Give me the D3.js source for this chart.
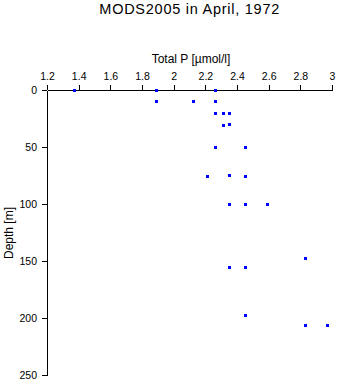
<!DOCTYPE html>
<html>
<head>
<meta charset="utf-8">
<script src="https://cdn.jsdelivr.net/npm/d3@7"></script>
<style>
  html, body { margin: 0; padding: 0; background: #fff; }
  svg { display: block; }
  text { font-family: "Liberation Sans", Arial, Helvetica, sans-serif; fill: #000; }
</style>
</head>
<body>
<svg id="chart" width="338" height="384"></svg>
<script>
// Data
const totalP = [1.37, 1.89, 2.26, 1.89, 2.12, 2.26, 2.26, 2.31, 2.35, 2.31, 2.35, 2.26, 2.45, 2.21, 2.35, 2.45, 2.35, 2.45, 2.59, 2.83, 2.35, 2.45, 2.45, 2.83, 2.97];
const depth  = [0,    0,    0,    10,   10,   10,   20,   20,   20,   30.5, 29.5, 50,   50,   75.5, 74.5, 75.5, 100,  100,  100,  147,  155,  155,  197,  206,  206];
const xTicks = [1.2, 1.4, 1.6, 1.8, 2, 2.2, 2.4, 2.6, 2.8, 3];
const yTicks = [0, 50, 100, 150, 200, 250];
const titleText = "MODS2005 in April, 1972";
const xLabel = "Total P [\u00b5mol/l]";
const yLabel = "Depth [m]";

const svg = d3.select("#chart");
const x = d3.scaleLinear().domain([1.2, 3]).range([47, 332]);
const y = d3.scaleLinear().domain([0, 250]).range([90, 375]);

// Title
svg.append("text")
  .attr("x", 99.3).attr("y", 14)
  .attr("font-size", 14.5)
  .attr("textLength", 180).attr("lengthAdjust", "spacing")
  .text(titleText);

// X axis (top)
const xAxis = svg.append("g").attr("transform", "translate(0,90)")
  .call(d3.axisTop(x).tickValues(xTicks).tickSize(5).tickPadding(5)
    .tickFormat(d => String(d)));
xAxis.select(".domain").attr("d", `M${x(1.2)+0.5},0.5H${x(3)+0.5}`);
xAxis.selectAll("text").attr("font-size", 10.5).attr("font-family", null);

// Y axis (left)
const yAxis = svg.append("g").attr("transform", "translate(47,0)")
  .call(d3.axisLeft(y).tickValues(yTicks).tickSize(5).tickPadding(5));
yAxis.select(".domain").attr("d", `M0.5,${y(0)+0.5}V${y(250)+0.5}`);
yAxis.selectAll("text").attr("font-size", 10.5).attr("font-family", null);

svg.selectAll(".domain, .tick line").attr("stroke", "#000").attr("shape-rendering", "crispEdges");

// Axis titles
svg.append("text")
  .attr("x", 191).attr("y", 62.7)
  .attr("text-anchor", "middle").attr("font-size", 12)
  .text(xLabel);
svg.append("text")
  .attr("transform", "translate(13,233) rotate(-90)")
  .attr("text-anchor", "middle").attr("font-size", 12)
  .text(yLabel);

// Points
const pts = totalP.map((v, i) => ({ v, d: depth[i] }));
svg.append("g").selectAll("rect").data(pts).join("rect")
  .attr("x", p => Math.round(x(p.v)) - 1)
  .attr("y", p => Math.round(y(p.d)) - 1)
  .attr("width", 3).attr("height", 3)
  .attr("fill", "#0000ff")
  .attr("shape-rendering", "crispEdges");
</script>
</body>
</html>
